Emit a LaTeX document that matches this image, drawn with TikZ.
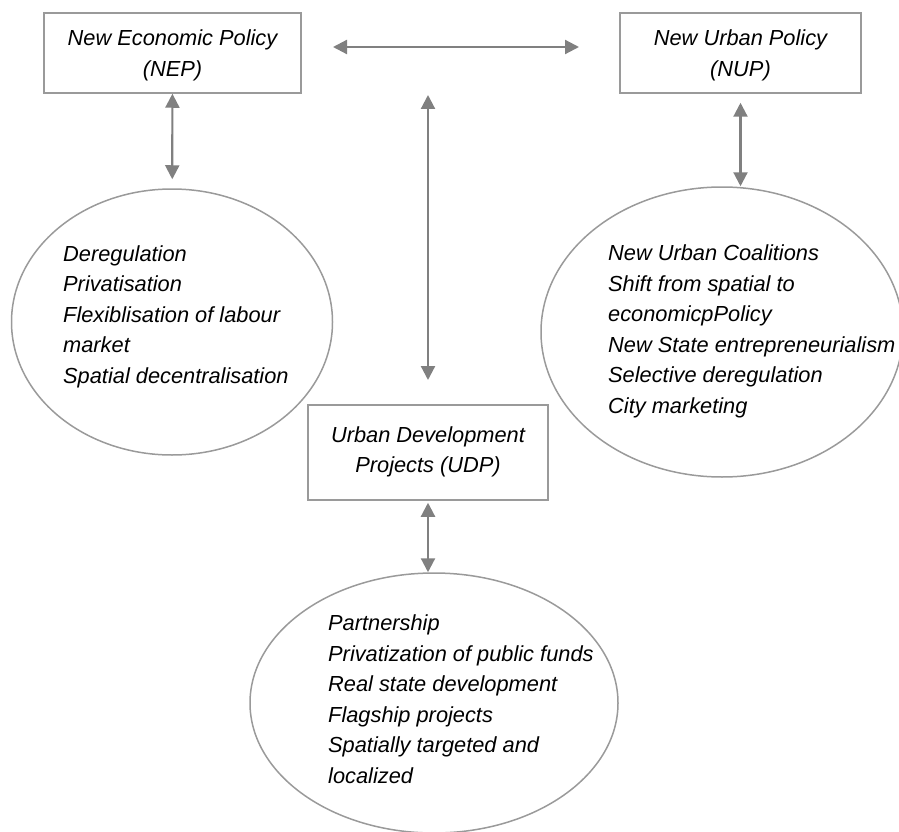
\documentclass[tikz,border=0pt]{standalone}
\usepackage{fontspec}
\setmainfont{Liberation Sans}
\usepackage{tikz}
\usetikzlibrary{arrows.meta,shapes.geometric}
\definecolor{boxgray}{HTML}{9A9A9A}
\definecolor{arrowgray}{HTML}{808080}
\newcommand{\diagfont}{\fontsize{21.8pt}{30.5pt}\selectfont\itshape}

\begin{document}
\begin{tikzpicture}
[x=1pt,y=-1pt,>={Triangle[length=14pt,width=14pt]},
  box node/.style={rectangle,draw=boxgray,line width=1.5pt,fill=white,align=center,font=\diagfont,inner sep=0pt,text height=52pt,text depth=5pt},
  oval node/.style={ellipse,draw=boxgray,line width=1.5pt,inner sep=0pt},
  list node/.style={align=left,font=\diagfont,inner sep=0pt,anchor=base west},
  link/.style={<->,draw=arrowgray,line width=2.2pt}]
  \useasboundingbox (0,0) rectangle (899,832);
  \node[box node,minimum width=257pt,minimum height=80pt] (nep) at (172.5,53) {New Economic Policy\\(NEP)};
  \node[box node,minimum width=241pt,minimum height=80pt] (nup) at (740.5,53) {New Urban Policy\\(NUP)};
  \node[box node,minimum width=240pt,minimum height=95pt,text height=45pt] (udp) at (428,452.5) {Urban Development\\Projects (UDP)};
  \node[oval node,minimum width=321pt,minimum height=266pt] (nepoval) at (172,322) {};
  \node[oval node,minimum width=362pt,minimum height=290pt] (nupoval) at (722,332) {};
  \node[oval node,minimum width=368pt,minimum height=260pt] (udpoval) at (434,703) {};
  % lists: anchor is the baseline of the last line
  \node[list node] (neplist) at (63,383) {Deregulation\\Privatisation\\Flexiblisation of labour\\market\\Spatial decentralisation};
  \node[list node] (nuplist) at (608,413) {New Urban Coalitions\\Shift from spatial to\\economicpPolicy\\New State entrepreneurialism\\Selective deregulation\\City marketing};
  \node[list node] (udplist) at (328,783) {Partnership\\Privatization of public funds\\Real state development\\Flagship projects\\Spatially targeted and\\localized};
  \coordinate (hleft) at (333,47);
  \coordinate (hright) at (579,47);
  \coordinate (vtop) at (428,95);
  \coordinate (vbottom) at (428,380);
  \path
    (hleft) edge[link] (hright)
    (vtop) edge[link] (vbottom)
    (nep) edge[link,shorten >=9pt] (nepoval)
    (nup.south) edge[link,shorten <=9pt] (nup.south |- nupoval.north)
    (udp.south) edge[link,shorten <=2pt] (udp.south |- udpoval.north);
\end{tikzpicture}
\end{document}
